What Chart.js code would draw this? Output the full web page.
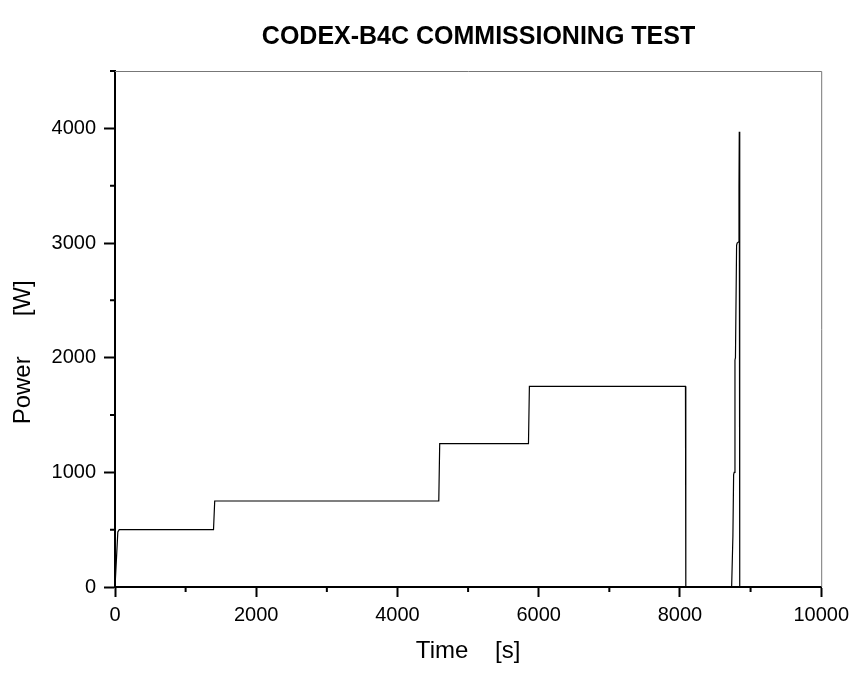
<!DOCTYPE html>
<html>
<head>
<meta charset="utf-8">
<script src="https://cdn.jsdelivr.net/npm/chart.js@4.4.1/dist/chart.umd.min.js"></script>
<style>
  html, body { margin: 0; padding: 0; background: #fff; }
  #wrap { position: relative; width: 855px; height: 673px; }
</style>
</head>
<body>
<div id="wrap"><canvas id="powerChart"></canvas></div>
<script>
(() => {
  'use strict'

  // Power log of the commissioning run
  const timeS = [
    0, 10, 25, 40, 60,
    1395, 1412,
    4585, 4598,
    5855, 5868,
    8078, 8083,
    8732, 8750, 8760, 8768, 8779, 8786, 8802, 8810, 8831, 8836, 8840, 8845, 8848,
    9290
  ]
  const powerW = [
    0, 0, 300, 480, 500,
    500, 750,
    750, 1250,
    1250, 1750,
    1750, 0,
    0, 450, 980, 1000, 1980, 2000, 2980, 3000, 3010, 3500, 3970, 3970, 0,
    0
  ]

  const xTicks = [0, 2000, 4000, 6000, 8000, 10000]
  const yTicks = [0, 1000, 2000, 3000, 4000]
  const xMinor = [1000, 3000, 5000, 7000, 9000]
  const yMinor = [500, 1500, 2500, 3500, 4500]

  const points = timeS.map((t, i) => ({ x: t, y: powerW[i] }))

  // frame top/right plus the short minor ticks
  const frame = {
    id: 'frame',
    afterDraw(chart) {
      const { ctx, chartArea: a, scales: { x, y } } = chart
      ctx.save()
      ctx.strokeStyle = '#777'
      ctx.lineWidth = 1
      ctx.beginPath()
      ctx.moveTo(a.left, a.top + 0.5)
      ctx.lineTo(a.right + 0.5, a.top + 0.5)
      ctx.lineTo(a.right + 0.5, a.bottom)
      ctx.stroke()

      ctx.strokeStyle = '#000'
      ctx.lineWidth = 2
      ctx.beginPath()
      xMinor.forEach(v => {
        const px = x.getPixelForValue(v)
        ctx.moveTo(px, a.bottom)
        ctx.lineTo(px, a.bottom + 5)
      })
      yMinor.forEach(v => {
        const py = y.getPixelForValue(v)
        ctx.moveTo(a.left, py)
        ctx.lineTo(a.left - 5, py)
      })
      ctx.stroke()
      ctx.restore()
    }
  }

  const family = "'Liberation Sans', Arial, sans-serif"
  const tickFont = { family, size: 20 }
  const axisTitleFont = { family, size: 24 }
  const nb = n => '\u00a0'.repeat(n)

  new Chart(document.getElementById('powerChart'), {
    type: 'scatter',
    data: {
      datasets: [{
        data: points,
        showLine: true,
        borderColor: '#000',
        borderWidth: 1.2,
        pointRadius: 0,
        tension: 0
      }]
    },
    options: {
      responsive: true,
      maintainAspectRatio: false,
      animation: false,
      layout: { padding: { left: 0, right: 33, top: 0, bottom: 0 } },
      plugins: {
        legend: { display: false },
        tooltip: { enabled: false },
        title: {
          display: true,
          fullSize: false,
          text: nb(3) + 'CODEX-B4C COMMISSIONING TEST',
          color: '#000',
          font: { family, size: 25, weight: 'bold' },
          padding: { top: 22, bottom: 19 }
        }
      },
      scales: {
        x: {
          type: 'linear',
          min: 0,
          max: 10000,
          afterBuildTicks: s => { s.ticks = xTicks.map(v => ({ value: v })) },
          afterFit: s => { s.height = 86 },
          ticks: {
            color: '#000',
            font: tickFont,
            padding: 6,
            maxRotation: 0,
            callback: v => String(v)
          },
          grid: {
            drawOnChartArea: false,
            drawTicks: true,
            tickLength: 10,
            tickWidth: 2,
            tickColor: '#000'
          },
          border: { display: true, color: '#000', width: 2 },
          title: {
            display: true,
            text: 'Time' + nb(4) + '[s]',
            color: '#000',
            font: axisTitleFont,
            padding: { top: 0, bottom: 7 }
          }
        },
        y: {
          type: 'linear',
          min: 0,
          max: 4500,
          afterBuildTicks: s => { s.ticks = yTicks.map(v => ({ value: v })) },
          afterFit: s => { s.width = 115 },
          ticks: {
            color: '#000',
            font: tickFont,
            padding: 8,
            callback: v => String(v)
          },
          grid: {
            drawOnChartArea: false,
            drawTicks: true,
            tickLength: 11,
            tickWidth: 2,
            tickColor: '#000'
          },
          border: { display: true, color: '#000', width: 2 },
          title: {
            display: true,
            text: 'Power' + nb(6) + '[W]' + nb(7),
            color: '#000',
            font: axisTitleFont,
            padding: { top: 9, bottom: 0 }
          }
        }
      }
    },
    plugins: [frame]
  })
})()
</script>
</body>
</html>
